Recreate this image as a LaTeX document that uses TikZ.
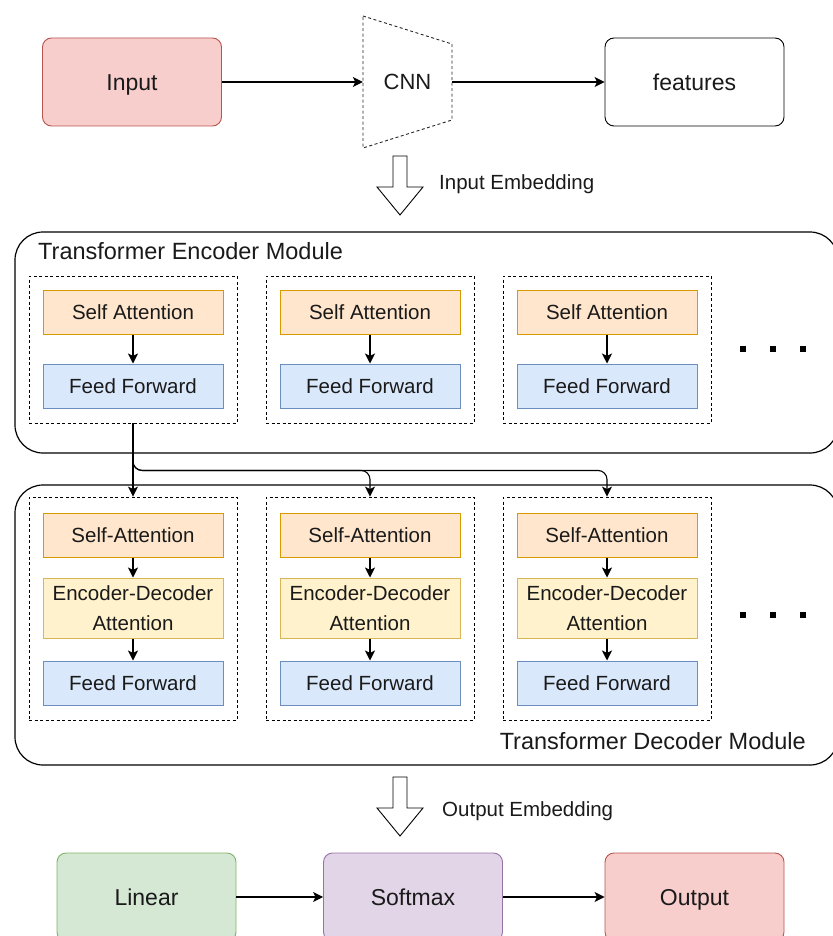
\documentclass[tikz,border=0pt]{standalone}
\usepackage{fontspec}
\setmainfont{Liberation Sans}
\usetikzlibrary{arrows.meta,calc}

\definecolor{redfill}{HTML}{F8CECC}\definecolor{redline}{HTML}{B85450}
\definecolor{orangefill}{HTML}{FFE6CC}\definecolor{orangeline}{HTML}{D79B00}
\definecolor{bluefill}{HTML}{DAE8FC}\definecolor{blueline}{HTML}{6C8EBF}
\definecolor{yellowfill}{HTML}{FFF2CC}\definecolor{yellowline}{HTML}{D6B656}
\definecolor{greenfill}{HTML}{D5E8D4}\definecolor{greenline}{HTML}{82B366}
\definecolor{purplefill}{HTML}{E1D5E7}\definecolor{purpleline}{HTML}{9673A6}
\definecolor{ink}{HTML}{1A1A1A}

\tikzset{
  bigbox/.style={draw, rounded corners=9pt, line width=0.9pt, minimum width=179pt,
    minimum height=88pt, font=\fontsize{23}{27}\selectfont, text=ink,
    text height=16.5pt, text depth=0pt},
  blockbox/.style={draw, line width=1pt, minimum width=180pt, minimum height=44pt,
    font=\fontsize{20.5}{29.5}\selectfont, text=ink, align=center, inner sep=0pt},
  group/.style={draw, dashed, dash pattern=on 3pt off 2.5pt, line width=0.9pt, minimum width=208pt},
  module/.style={draw, rounded corners=28pt, line width=1.2pt, minimum width=823pt},
  arr/.style={-{Stealth[length=10pt,width=10pt,inset=2.5pt]}, line width=1.2pt},
  small/.style={-{Stealth[length=10pt,width=10pt,inset=2.5pt]}, line width=1.1pt},
  label/.style={font=\fontsize{20.5}{24}\selectfont, text=ink, inner sep=0pt},
  title/.style={font=\fontsize{23.5}{28}\selectfont, text=ink, inner sep=0pt},
  fatarrow/.style={draw, line width=0.9pt, fill=white},
  dot/.style={fill=black, minimum size=5.5pt, inner sep=0pt}
}

\begin{document}
\begin{tikzpicture}[x=1pt,y=-1pt]
\useasboundingbox (0,0) rectangle (832,936);

% ---- top row: input, CNN, features ----
\node[bigbox, fill=redfill, draw=redline] (input) at (132,82) {Input};
\node[bigbox, draw=black, fill=white] (features) at (694.5,82) {features};
\draw[dashed, dash pattern=on 3pt off 2.5pt, line width=0.9pt, black!85]
  (363,16) -- (452,44) -- (452,120) -- (363,148) -- cycle;
\node[minimum width=89pt, minimum height=132pt, inner sep=0pt,
  font=\fontsize{22}{26}\selectfont, text=ink] (cnn) at (407.5,82) {CNN};
\draw[arr] (input) -- (cnn.west);
\draw[arr] (cnn.east) -- (features);

% ---- input embedding ----
\draw[fatarrow] (393,156) -- (407,156) -- (407,187) -- (423,187) -- (400,215)
  -- (377,187) -- (393,187) -- cycle;
\node[label, anchor=west] (inemb) at (439,184) {Input Embedding};

% ---- encoder module ----
\node[module, minimum height=221pt] (encmod) at (426.5,342.5) {};
\node[title, anchor=west] (enctitle) at (38,251) {Transformer Encoder Module};

% ---- decoder module ----
\node[module, minimum height=280pt] (decmod) at (426.5,625) {};
\node[title, anchor=east] (dectitle) at (806,741) {Transformer Decoder Module};

\foreach \i/\x in {1/133,2/370,3/607}{
  % encoder layer
  \node[group, minimum height=147pt] (enc\i) at (\x,349.5) {};
  \node[blockbox, fill=orangefill, draw=orangeline] (esa\i) at (\x,312) {Self Attention};
  \node[blockbox, fill=bluefill, draw=blueline] (eff\i) at (\x,386) {Feed Forward};
  \draw[small] (esa\i) -- (eff\i);
  % decoder layer
  \node[group, minimum height=223pt] (dec\i) at (\x,608.5) {};
  \node[blockbox, fill=orangefill, draw=orangeline] (dsa\i) at (\x,535) {Self-Attention};
  \node[blockbox, fill=yellowfill, draw=yellowline, minimum height=60pt] (dea\i) at (\x,608)
    {Encoder-Decoder\\Attention};
  \node[blockbox, fill=bluefill, draw=blueline] (dff\i) at (\x,683) {Feed Forward};
  \draw[small] (dsa\i) -- (dea\i);
  \draw[small] (dea\i) -- (dff\i);
}

% continuation marks
\foreach \k/\x in {1/743,2/773,3/803}{
  \node[dot] (edot\k) at (\x,349) {};
  \node[dot] (ddot\k) at (\x,615) {};
}

% encoder output feeds every decoder layer
\draw[small] (enc1.south) -- (dec1.north);
\draw[small, rounded corners=9pt] (enc1.south) -- ++(0,47) -| (dec2.north);
\draw[small, rounded corners=9pt] (enc1.south) -- ++(0,47) -| (dec3.north);

% ---- output embedding ----
\draw[fatarrow] (393,777) -- (407,777) -- (407,808) -- (423,808) -- (400,836)
  -- (377,808) -- (393,808) -- cycle;
\node[label, anchor=west] (outemb) at (442,811) {Output Embedding};

% ---- bottom row ----
\node[bigbox, fill=greenfill, draw=greenline] (linear) at (146.5,897) {Linear};
\node[bigbox, fill=purplefill, draw=purpleline] (softmax) at (413,897) {Softmax};
\node[bigbox, fill=redfill, draw=redline] (output) at (694.5,897) {Output};
\draw[arr] (linear) -- (softmax);
\draw[arr] (softmax) -- (output);
\end{tikzpicture}
\end{document}
